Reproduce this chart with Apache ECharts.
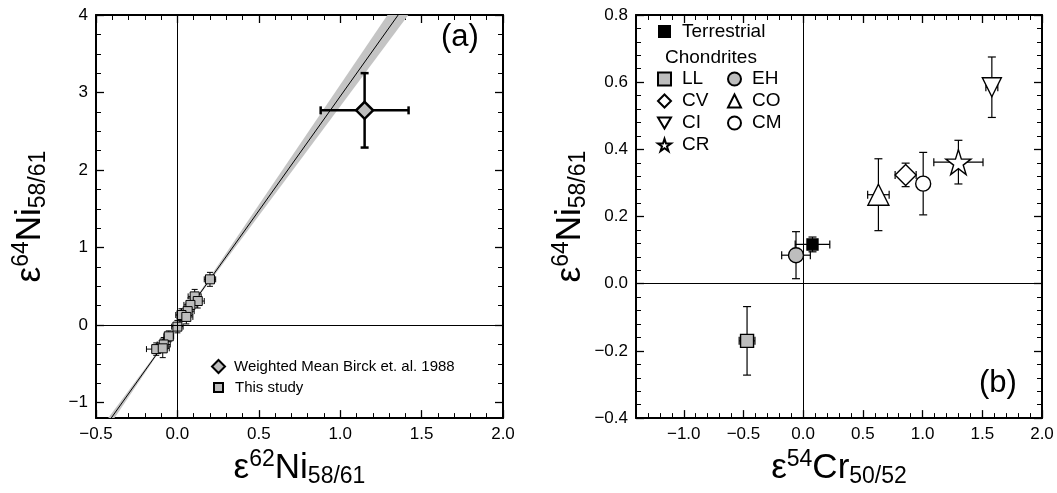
<!DOCTYPE html>
<html><head><meta charset="utf-8">
<script src="https://cdn.jsdelivr.net/npm/echarts@6/dist/echarts.min.js"></script>
<style>html,body{margin:0;padding:0;background:#fff}#c{width:1057px;height:493px}</style>
</head><body><div id="c"></div>
<script>
// ---------- Panel (a) data ----------
const studyX    = [0.200, 0.106, 0.125, 0.080, 0.063, 0.025, 0.055, 0.000, -0.053, -0.084, -0.130, -0.090];
const studyY    = [0.590, 0.370, 0.310, 0.260, 0.180, 0.130, 0.105, -0.020, -0.145, -0.250, -0.310, -0.300];
const studyXErr = [0.035, 0.040, 0.040, 0.040, 0.040, 0.035, 0.040, 0.035, 0.030, 0.040, 0.060, 0.040];
const studyYErr = [0.090, 0.090, 0.090, 0.090, 0.090, 0.080, 0.090, 0.080, 0.070, 0.090, 0.080, 0.120];
const birckX = [1.15], birckY = [2.77], birckXErr = [0.27], birckYErr = [0.48];
const fitSlope = [2.95];           // regression line through origin
const fitSlopeBand = [2.82, 3.10]; // grey error envelope
// ---------- Panel (b) data ----------
const groups = ['Terrestrial', 'LL', 'EH', 'CV', 'CO', 'CI', 'CM', 'CR'];
const cr54    = [0.078, -0.470, -0.060, 0.858, 0.630, 1.580, 1.005, 1.300];
const cr54Err = [0.145, 0.066, 0.120, 0.088, 0.090, 0.050, 0.030, 0.206];
const ni64    = [0.117, -0.170, 0.085, 0.324, 0.265, 0.585, 0.298, 0.362];
const ni64Err = [0.022, 0.102, 0.070, 0.035, 0.107, 0.090, 0.093, 0.065];
// ---------- ticks ----------
const aXTicks = [-0.5, 0, 0.5, 1, 1.5, 2];
const aYTicks = [-1, 0, 1, 2, 3, 4];
const bXTicks = [-1, -0.5, 0, 0.5, 1, 1.5, 2];
const bYTicks = [-0.4, -0.2, 0, 0.2, 0.4, 0.6, 0.8];
const aRange = {xmin: -0.5, xmax: 2.0, ymin: -1.2, ymax: 4};
const bRange = {xmin: -1.4, xmax: 2.0, ymin: -0.4, ymax: 0.8};

function steps(a, b, s) { const r = []; const n = Math.round((b - a) / s); for (let i = 0; i <= n; i++) r.push(+(a + i * s).toFixed(4)); return r; }
const aXMinor = steps(-0.5, 2.0, 0.1);
const aYMinor = steps(-1, 4, 0.25);
const bXMinor = steps(-1.4, 2.0, 0.1);
const bYMinor = steps(-0.4, 0.8, 0.04);

const FONT = 'Liberation Sans, Arial, Helvetica, sans-serif';
const fmt1 = v => (v < 0 ? '\u2212' : '') + Math.abs(v).toFixed(1);
const fmt0 = v => (v < 0 ? '\u2212' : '') + Math.abs(v).toFixed(0);

const richTitle = {
  m: {fontSize: 35, fontFamily: FONT, color: '#000', lineHeight: 40},
  sup: {fontSize: 23, fontFamily: FONT, color: '#000', lineHeight: 18, verticalAlign: 'top'},
  sub: {fontSize: 23, fontFamily: FONT, color: '#000', lineHeight: 14, verticalAlign: 'bottom'}
};

const xAxes = [], yAxes = [];
function addAxes(list, dim, grid, min, max, majors, minors, fmt, name, nameGap) {
  const main = dim === 'x' ? 'bottom' : 'left', opp = dim === 'x' ? 'top' : 'right';
  const base = {type: 'value', gridIndex: grid, min, max, splitLine: {show: false}, scale: false};
  const idx = list.length;
  list.push(Object.assign({}, base, {
    position: main,
    axisLine: {show: true, onZero: false, lineStyle: {color: '#000', width: 2}},
    axisTick: {show: true, inside: true, length: 8, customValues: majors, lineStyle: {color: '#000', width: 1.3}},
    axisLabel: {show: true, customValues: majors, formatter: fmt, fontSize: 17, fontFamily: FONT, color: '#000', margin: 8},
    name, nameLocation: 'middle', nameGap, nameRotate: dim === 'y' ? 90 : 0,
    nameTextStyle: {rich: richTitle}
  }));
  list.push(Object.assign({}, base, {
    position: main,
    axisLine: {show: false, onZero: false},
    axisTick: {show: true, inside: true, length: 5, customValues: minors, lineStyle: {color: '#000', width: 1}},
    axisLabel: {show: false}
  }));
  list.push(Object.assign({}, base, {
    position: opp,
    axisLine: {show: true, onZero: false, lineStyle: {color: '#000', width: 2}},
    axisTick: {show: true, inside: true, length: 8, customValues: majors, lineStyle: {color: '#000', width: 1.3}},
    axisLabel: {show: false}
  }));
  list.push(Object.assign({}, base, {
    position: opp,
    axisLine: {show: false, onZero: false},
    axisTick: {show: true, inside: true, length: 5, customValues: minors, lineStyle: {color: '#000', width: 1}},
    axisLabel: {show: false}
  }));
  return idx;
}
const axA_x = addAxes(xAxes, 'x', 0, aRange.xmin, aRange.xmax, aXTicks, aXMinor, fmt1, '{m|ε}{sup|62}{m|Ni}{sub|58/61}', 27);
const axA_y = addAxes(yAxes, 'y', 0, aRange.ymin, aRange.ymax, aYTicks, aYMinor, fmt0, '{m|ε}{sup|64}{m|Ni}{sub|58/61}', 46);
const axB_x = addAxes(xAxes, 'x', 1, bRange.xmin, bRange.xmax, bXTicks, bXMinor, fmt1, '{m|ε}{sup|54}{m|Cr}{sub|50/52}', 27);
const axB_y = addAxes(yAxes, 'y', 1, bRange.ymin, bRange.ymax, bYTicks, bYMinor, fmt1, '{m|ε}{sup|64}{m|Ni}{sub|58/61}', 46);

function errRender(cap, lw) {
  return function (params, api) {
    const x = api.value(0), y = api.value(1), ex = api.value(2), ey = api.value(3);
    const st = {stroke: '#000', lineWidth: lw, fill: null};
    const ch = [];
    const seg = (p, q) => ch.push({type: 'line', shape: {x1: p[0], y1: p[1], x2: q[0], y2: q[1]}, style: st});
    if (ex > 0) {
      const l = api.coord([x - ex, y]), r = api.coord([x + ex, y]);
      seg(l, r); seg([l[0], l[1] - cap], [l[0], l[1] + cap]); seg([r[0], r[1] - cap], [r[0], r[1] + cap]);
    }
    if (ey > 0) {
      const t = api.coord([x, y + ey]), b = api.coord([x, y - ey]);
      seg(t, b); seg([t[0] - cap, t[1]], [t[0] + cap, t[1]]); seg([b[0] - cap, b[1]], [b[0] + cap, b[1]]);
    }
    return {type: 'group', children: ch};
  };
}
const zip4 = (a, b, c, d) => a.map((v, i) => [v, b[i], c[i], d[i]]);

const GREY = '#bdbdbd';
const series = [];
// Panel (a) envelope
series.push({
  type: 'custom', xAxisIndex: axA_x, yAxisIndex: axA_y, clip: true, silent: true, z: 1,
  data: [[aRange.xmin, aRange.xmax]],
  renderItem: function (params, api) {
    const x0 = api.value(0), x1 = api.value(1);
    const pts = [api.coord([0, 0]), api.coord([x1, x1 * fitSlopeBand[0]]), api.coord([x1, x1 * fitSlopeBand[1]])];
    const pts2 = [api.coord([0, 0]), api.coord([x0, x0 * fitSlopeBand[0]]), api.coord([x0, x0 * fitSlopeBand[1]])];
    return {type: 'group', children: [
      {type: 'polygon', shape: {points: pts}, style: {fill: '#c4c4c4'}},
      {type: 'polygon', shape: {points: pts2}, style: {fill: '#c4c4c4'}}
    ]};
  }
});
series.push({
  type: 'line', xAxisIndex: axA_x, yAxisIndex: axA_y, clip: true, silent: true, symbol: 'none', z: 2,
  data: [[aRange.xmin, aRange.xmin * fitSlope[0]], [aRange.xmax, aRange.xmax * fitSlope[0]]],
  lineStyle: {color: '#000', width: 1},
  markLine: {silent: true, symbol: 'none', label: {show: false}, lineStyle: {color: '#000', width: 1, type: 'solid'},
    data: [{xAxis: 0}, {yAxis: 0}]}
});
series.push({type: 'custom', xAxisIndex: axA_x, yAxisIndex: axA_y, z: 3, silent: true,
  data: zip4(studyX, studyY, studyXErr, studyYErr), renderItem: errRender(3, 1)});
series.push({type: 'custom', xAxisIndex: axA_x, yAxisIndex: axA_y, z: 3, silent: true,
  data: zip4(birckX, birckY, birckXErr, birckYErr), renderItem: errRender(4, 2.5)});
series.push({name: 'This study', type: 'scatter', xAxisIndex: axA_x, yAxisIndex: axA_y, z: 4,
  symbol: 'rect', symbolSize: 9, data: studyX.map((v, i) => [v, studyY[i]]),
  itemStyle: {color: GREY, borderColor: '#000', borderWidth: 1, opacity: 1}});
series.push({name: 'Weighted Mean Birck et. al. 1988', type: 'scatter', xAxisIndex: axA_x, yAxisIndex: axA_y, z: 5,
  symbol: 'diamond', symbolSize: 17, data: birckX.map((v, i) => [v, birckY[i]]),
  itemStyle: {color: GREY, borderColor: '#000', borderWidth: 2.5, opacity: 1}});

// Panel (b)
series.push({type: 'line', xAxisIndex: axB_x, yAxisIndex: axB_y, data: [], silent: true,
  markLine: {silent: true, symbol: 'none', label: {show: false}, lineStyle: {color: '#000', width: 1, type: 'solid'},
    data: [{xAxis: 0}, {yAxis: 0}]}});
series.push({type: 'custom', xAxisIndex: axB_x, yAxisIndex: axB_y, z: 3, silent: true,
  data: zip4(cr54, ni64, cr54Err, ni64Err), renderItem: errRender(4, 1.2)});
const STAR = 'path://M50,0 L61.2,34.5 L97.6,34.5 L68.2,55.9 L79.4,90.5 L50,69.1 L20.6,90.5 L31.8,55.9 L2.4,34.5 L38.8,34.5 Z';
const DOWN = 'path://M0,0 L100,0 L50,86 Z';
const styleB = {
  Terrestrial: {symbol: 'rect', size: 11, fill: '#000'},
  LL: {symbol: 'rect', size: 13, fill: GREY},
  EH: {symbol: 'circle', size: 15, fill: GREY},
  CV: {symbol: 'diamond', size: 21, fill: '#fff'},
  CO: {symbol: 'triangle', size: 21, fill: '#fff'},
  CI: {symbol: DOWN, size: 19, fill: '#fff'},
  CM: {symbol: 'circle', size: 15, fill: '#fff'},
  CR: {symbol: STAR, size: 25, fill: '#fff'}
};
groups.forEach((g, i) => {
  const s = styleB[g];
  series.push({name: g, type: 'scatter', xAxisIndex: axB_x, yAxisIndex: axB_y, z: 5,
    symbol: s.symbol, symbolSize: s.size, data: [[cr54[i], ni64[i]]],
    itemStyle: {color: s.fill, borderColor: '#000', borderWidth: 1.4, opacity: 1}});
});

const legTxt = (fs, pad) => ({fontSize: fs, fontFamily: FONT, color: '#000', padding: [0, 0, 0, pad]});
const chart = echarts.init(document.getElementById('c'), null, {renderer: 'canvas'});
chart.setOption({
  animation: false,
  backgroundColor: '#fff',
  grid: [
    {left: 96, top: 15, width: 407, height: 408, containLabel: false},
    {left: 636, top: 15, width: 406, height: 408, containLabel: false}
  ],
  xAxis: xAxes, yAxis: yAxes,
  legend: [
    {data: ['Weighted Mean Birck et. al. 1988'], left: 211, top: 359, itemWidth: 13, itemHeight: 13, selectedMode: false, textStyle: legTxt(15, 4), padding: 0},
    {data: ['This study'], left: 213, top: 380, itemWidth: 9, itemHeight: 9, selectedMode: false, textStyle: legTxt(15, 7), padding: 0},
    {data: ['Terrestrial'], left: 658, top: 22, itemWidth: 11, itemHeight: 11, selectedMode: false, textStyle: legTxt(19, 7), padding: 0},
    {data: ['LL', 'CV', 'CI', 'CR'], orient: 'vertical', left: 657, top: 69, itemWidth: 13, itemHeight: 13, itemGap: 2, selectedMode: false, textStyle: Object.assign(legTxt(19, 6), {lineHeight: 20}), padding: 0},
    {data: ['EH', 'CO', 'CM'], orient: 'vertical', left: 727, top: 69, itemWidth: 13, itemHeight: 13, itemGap: 2, selectedMode: false, textStyle: Object.assign(legTxt(19, 6), {lineHeight: 20}), padding: 0}
  ],
  graphic: [
    {type: 'text', left: 441, top: 22, style: {text: '(a)', font: '31px ' + FONT, fill: '#000'}},
    {type: 'text', left: 979, top: 368, style: {text: '(b)', font: '31px ' + FONT, fill: '#000'}},
    {type: 'text', left: 665, top: 48, style: {text: 'Chondrites', font: '19px ' + FONT, fill: '#000'}}
  ],
  series
});
</script></body></html>
